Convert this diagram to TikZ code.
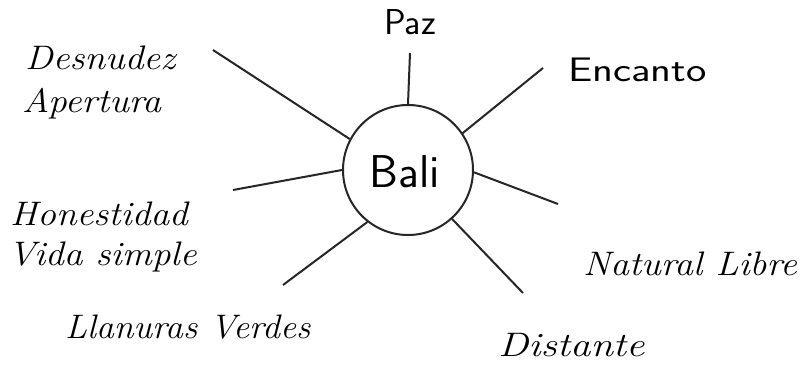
\documentclass[tikz,border=0pt]{standalone}
\usepackage{fontspec}
\usepackage{graphicx}
\newcommand{\widetxt}[1]{\scalebox{1.1}[1]{#1}}
\begin{document}
\begin{tikzpicture}[x=1pt,y=-1pt,
  ray/.style={line width=2pt, black!85},
  word/.style={font=\fontsize{34}{38}\selectfont\itshape, inner sep=0pt, anchor=west},
  hand/.style={font=\fontsize{36}{40}\selectfont\sffamily, inner sep=0pt}]
\useasboundingbox[fill=white] (0,0) rectangle (804,381);
\node[draw, circle, line width=2pt, black!85, minimum size=130pt, inner sep=0pt] (bali) at (408,170) {};
\node[hand, font=\fontsize{46}{50}\selectfont\sffamily] (balit) at (405,172) {Bali};
% ray end points
\coordinate (pz) at (410,53);
\coordinate (ul) at (213,50);
\coordinate (ur) at (543,68);
\coordinate (l) at (233,190);
\coordinate (r) at (558,204);
\coordinate (ll) at (283,285);
\coordinate (lr) at (523,293);
\draw[ray] (bali.90) -- (pz);
\draw[ray] (bali.152) -- (ul);
\draw[ray] (bali.34) -- (ur);
\draw[ray] (bali.180) -- (l);
\draw[ray] (bali.-2) -- (r);
\draw[ray] (bali.-128) -- (ll);
\draw[ray] (bali.-48) -- (lr);
\node[hand] (paz) at (410,22) {Paz};
\node[hand, anchor=west, font=\fontsize{34}{38}\selectfont\sffamily] (enc) at (568,70) {\scalebox{1.27}[1]{Encanto}};
\node[word] (des) at (25,58) {\widetxt{Desnudez}};
\node[word] (ape) at (22,104) {\widetxt{Apertura}};
\node[word] (hon) at (10,214) {\widetxt{Honestidad}};
\node[word] (vid) at (8,257) {\widetxt{Vida simple}};
\node[word] (nat) at (583,264) {\widetxt{Natural Libre}};
\node[word] (lla) at (65,327) {\scalebox{1.05}[1]{Llanuras Verdes}};
\node[word] (dis) at (498,345) {\scalebox{1.2}[1]{Distante}};
\end{tikzpicture}
\end{document}
